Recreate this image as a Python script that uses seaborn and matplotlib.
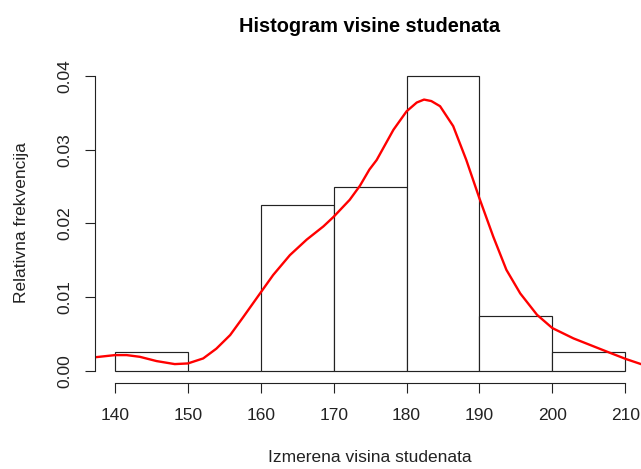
import numpy as np
import pandas as pd
import matplotlib
matplotlib.use("Agg")
import matplotlib.pyplot as plt
import seaborn as sns

# ---- data ----
bin_edges = [140, 150, 160, 170, 180, 190, 200, 210]
bin_centers = [145, 155, 165, 175, 185, 195, 205]
bin_counts = [1, 0, 9, 10, 16, 3, 1]          # 40 students -> densities 0.0025 .. 0.04

kde_x = [137.1, 140.0, 141.6, 143.4, 145.7, 148.2, 150.0, 152.1, 153.9, 155.8,
         157.6, 159.9, 161.7, 164.0, 166.3, 168.6, 170.0, 172.2, 173.6, 174.9,
         175.9, 178.2, 180.0, 181.4, 182.4, 183.4, 184.6, 186.4, 188.2, 190.0,
         191.9, 193.7, 195.6, 197.9, 200.0, 202.9, 207.5, 210.1, 212.2]
kde_y = [0.00182, 0.00213, 0.00213, 0.00190, 0.00132, 0.00091, 0.00100, 0.00168,
         0.00300, 0.00485, 0.00730, 0.01050, 0.01300, 0.01570, 0.01780, 0.01960,
         0.02090, 0.02320, 0.02510, 0.02730, 0.02860, 0.03270, 0.03520, 0.03640,
         0.03680, 0.03660, 0.03590, 0.03320, 0.02860, 0.02340, 0.01820, 0.01370,
         0.01050, 0.00760, 0.00580, 0.00440, 0.00260, 0.00160, 0.00090]

x_ticks = [140, 150, 160, 170, 180, 190, 200, 210]
y_ticks = [0.00, 0.01, 0.02, 0.03, 0.04]
y_tick_labels = ["0.00", "0.01", "0.02", "0.03", "0.04"]

title = "Histogram visine studenata"
xlabel = "Izmerena visina studenata"
ylabel = "Relativna frekvencija"

# ---- styling ----
sns.set_style("white")
plt.rcParams["font.family"] = ["Liberation Sans", "DejaVu Sans"]

W, H = 641, 469
dpi = 100
fig = plt.figure(figsize=(W / dpi, H / dpi), dpi=dpi)
fig.patch.set_facecolor("white")

# plot region in pixels (R-style, extends past the right edge of the image)
left_px, right_px = 94.6, 645.6
top_px, bottom_px = 64.2, 382.6
ax = fig.add_axes([left_px / W, (H - bottom_px) / H,
                   (right_px - left_px) / W, (bottom_px - top_px) / H])
ax.set_facecolor("white")

df_hist = pd.DataFrame({"x": bin_centers, "w": bin_counts})
sns.histplot(data=df_hist, x="x", weights="w", bins=bin_edges, stat="density",
             color="white", edgecolor="#222222", linewidth=0.85, alpha=1.0,
             ax=ax)

df_kde = pd.DataFrame({"x": kde_x, "y": kde_y})
sns.lineplot(data=df_kde, x="x", y="y", color="#ff0000", linewidth=1.7,
             ax=ax, sort=True)

ax.set_xlim(137.2, 212.8)
ax.set_ylim(-0.0016, 0.0416)

for s in ["top", "right"]:
    ax.spines[s].set_visible(False)
ax.spines["bottom"].set_bounds(140, 210)
ax.spines["left"].set_bounds(0.0, 0.04)
for s in ["bottom", "left"]:
    ax.spines[s].set_color("#222222")
    ax.spines[s].set_linewidth(0.8)

ax.set_xticks(x_ticks)
ax.set_xticklabels([str(v) for v in x_ticks])
ax.set_yticks(y_ticks)
ax.set_yticklabels(y_tick_labels, rotation=90, va="center")
ax.tick_params(axis="both", direction="out", length=7, width=0.8,
               color="#222222", labelsize=12.5, labelcolor="#222222",
               bottom=True, left=True)
ax.tick_params(axis="x", pad=11.5)
ax.tick_params(axis="y", pad=9)
ax.set_xlabel("")
ax.set_ylabel("")

fig.text(370 / W, 1 - 26 / H, title, ha="center", va="center",
         fontsize=14.4, fontweight="bold", color="black")
fig.text(370 / W, 1 - 457 / H, xlabel, ha="center", va="center",
         fontsize=12.5, color="#222222")
fig.text(22 / W, 1 - 223 / H, ylabel, ha="center", va="center",
         rotation=90, fontsize=12.5, color="#222222")

fig.savefig("out.png", dpi=dpi, facecolor="white")
